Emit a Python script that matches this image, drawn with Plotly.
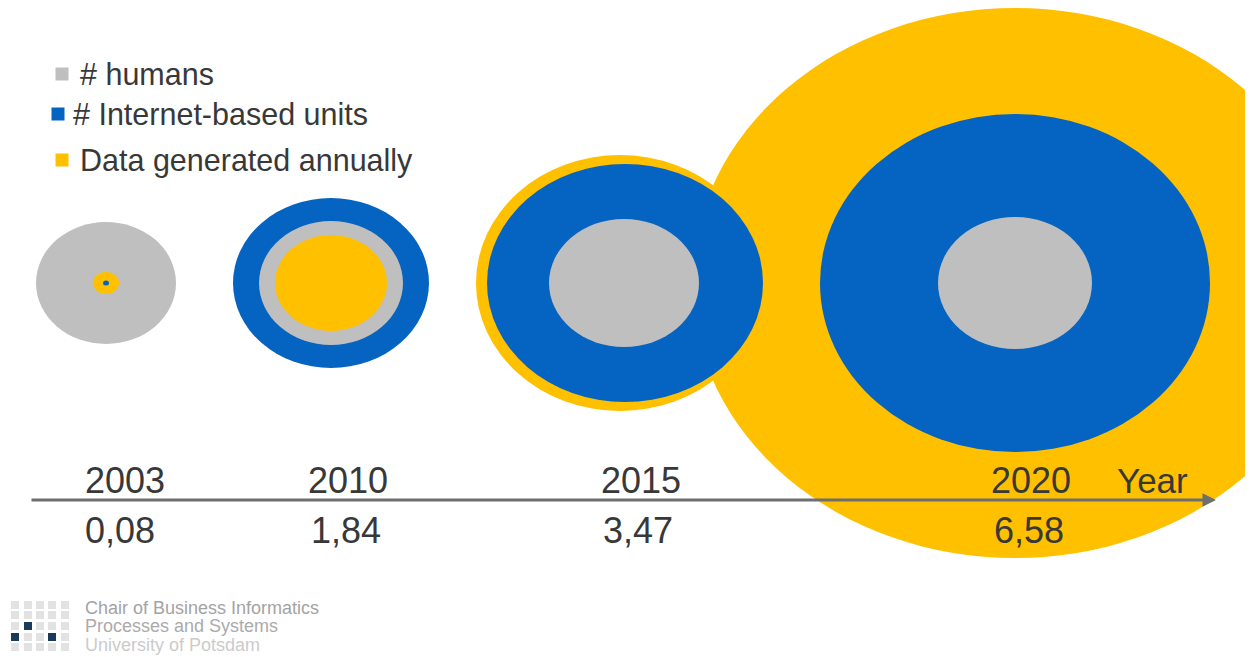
import plotly.graph_objects as go

# Timeline labels
years = ["2003", "2010", "2015", "2020"]
devices_per_person = ["0,08", "1,84", "3,47", "6,58"]
year_label_x = [125, 348, 641, 1031]
ratio_label_x = [120, 346, 638, 1029]

GREY = "#BFBFBF"
BLUE = "#0563C1"
YELLOW = "#FFC000"
TEXT = "#383838"

# Ellipses in paint order: colour, centre x, half width, half height
centre_y = 283
bubble_colors = [YELLOW, YELLOW, BLUE, GREY,
                 BLUE, GREY, YELLOW,
                 GREY, YELLOW, BLUE,
                 BLUE, GREY]
bubble_cx = [1015, 620, 625, 624,
             331, 331, 331,
             106, 106, 106,
             1015, 1015]
bubble_rx = [323, 144, 138, 75,
             98, 72, 56,
             70, 13, 3,
             195, 77]
bubble_ry = [275, 128, 119, 64,
             85, 62, 48,
             61, 11, 2.5,
             169, 66]

# Legend rows
legend_names = ["# humans", "# Internet-based units", "Data generated annually"]
legend_colors = [GREY, BLUE, YELLOW]
legend_swatch_x = [62, 58, 62]
legend_text_x = [78, 71, 78]
legend_y = [74, 114, 160]

# Footer logo
logo_cols = [15, 28, 40, 52, 65]
logo_rows = [605, 615, 626, 637, 647]
logo_dark = [(28, 626), (15, 637), (52, 637)]
logo_lines = ["Chair of Business Informatics", "Processes and Systems", "University of Potsdam"]
logo_line_y = [608, 626, 645]
logo_line_colors = ["#A3A3A3", "#ABABAB", "#CBCBCB"]

shapes = []
for c, cx, rx, ry in zip(bubble_colors, bubble_cx, bubble_rx, bubble_ry):
    shapes.append(dict(type="circle", xref="x", yref="y", layer="below",
                       x0=cx - rx, x1=cx + rx, y0=centre_y - ry, y1=centre_y + ry,
                       fillcolor=c, line_width=0))

annotations = []


def label(x, y, text, size, color=TEXT, anchor="center"):
    annotations.append(dict(x=x, y=y, xref="x", yref="y", text=text, showarrow=False,
                            xanchor=anchor, yanchor="middle",
                            font=dict(family="Liberation Sans", size=size, color=color)))


for name, x, y in zip(legend_names, legend_text_x, legend_y):
    label(x, y, name, 30.5, anchor="left")
for text, x in zip(years, year_label_x):
    label(x, 480, text, 36)
label(1152, 480, "Year", 35)
for text, x in zip(devices_per_person, ratio_label_x):
    label(x, 530, text, 36)
for text, y, c in zip(logo_lines, logo_line_y, logo_line_colors):
    label(83, y, text, 18, color=c, anchor="left")

# Time axis arrow
annotations.append(dict(x=1216, y=500, ax=30, ay=500, xref="x", yref="y", axref="x", ayref="y",
                        text="", showarrow=True, arrowhead=2, arrowsize=0.9, arrowwidth=3,
                        arrowcolor="#6E6E6E"))

fig = go.Figure()
for name, color, x, y in zip(legend_names, legend_colors, legend_swatch_x, legend_y):
    fig.add_trace(go.Scatter(x=[x], y=[y], mode="markers", name=name, showlegend=False,
                             marker=dict(symbol="square", size=13, color=color)))

grid = [(x, y) for y in logo_rows for x in logo_cols if (x, y) not in logo_dark]
fig.add_trace(go.Scatter(x=[p[0] for p in grid], y=[p[1] for p in grid], mode="markers",
                         showlegend=False, marker=dict(symbol="square", size=8, color="#E2E2E2")))
fig.add_trace(go.Scatter(x=[p[0] for p in logo_dark], y=[p[1] for p in logo_dark], mode="markers",
                         showlegend=False, marker=dict(symbol="square", size=8, color="#1A3A5A")))

fig.update_layout(
    width=1253, height=657, autosize=False,
    margin=dict(l=0, r=8, t=0, b=0),
    paper_bgcolor="white", plot_bgcolor="white",
    shapes=shapes, annotations=annotations, showlegend=False,
    xaxis=dict(range=[0, 1245], visible=False, fixedrange=True),
    yaxis=dict(range=[657, 0], visible=False, fixedrange=True),
)
fig.write_html("out.html", config=dict(displayModeBar=False))
